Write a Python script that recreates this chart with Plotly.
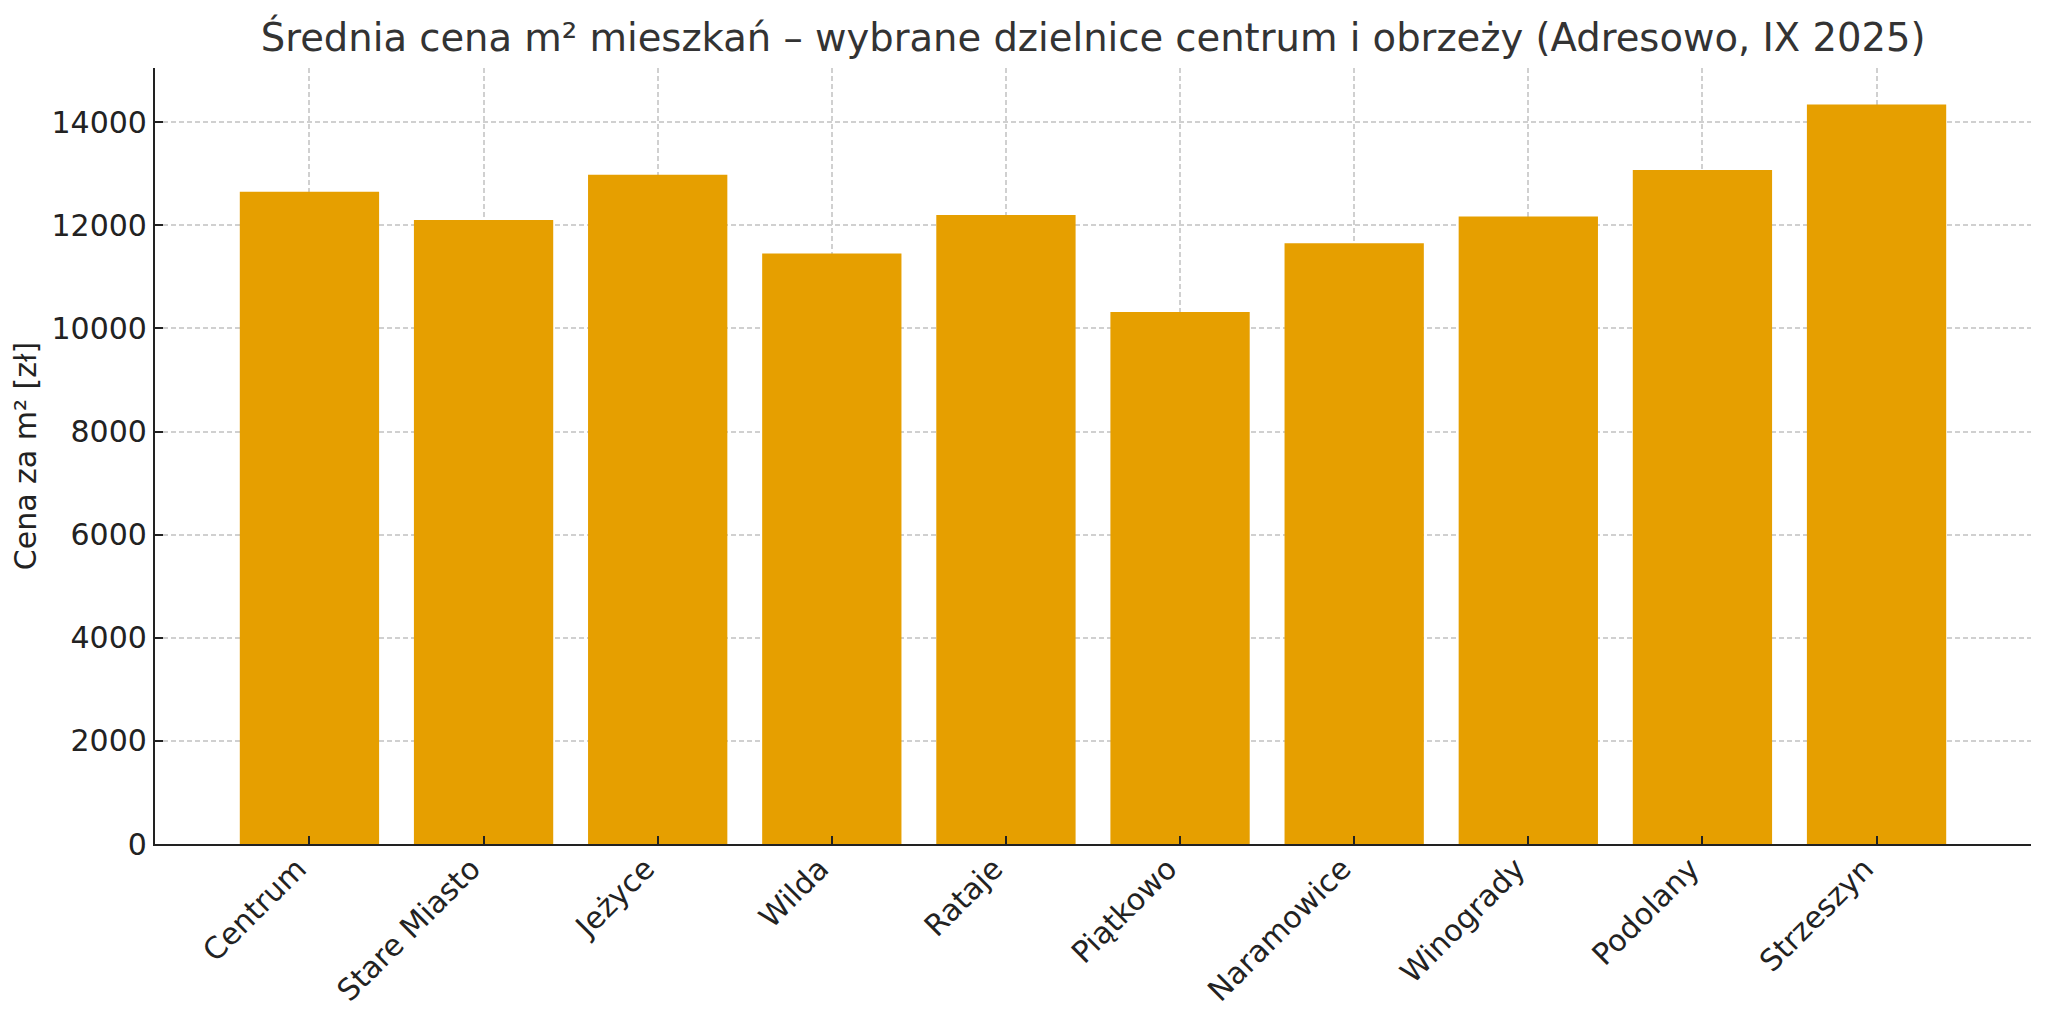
import plotly.graph_objects as go

# districts and average price per m2
districts = ["Centrum", "Stare Miasto", "Jeżyce", "Wilda", "Rataje",
             "Piątkowo", "Naramowice", "Winogrady", "Podolany", "Strzeszyn"]
prices = [12650, 12100, 12980, 11450, 12200, 10320, 11650, 12170, 13070, 14340]
y_ticks = [0, 2000, 4000, 6000, 8000, 10000, 12000, 14000]

FONT = "DejaVu Sans"

fig = go.Figure()
fig.add_trace(
    go.Bar(
        x=districts,
        y=prices,
        marker_color="#E69F00",
        marker_line_width=0,
        showlegend=False,
    )
)

# page body has an 8px margin, so the figure is 16px smaller than the window
fig.update_layout(
    width=2032,
    height=1000,
    margin=dict(l=147, r=9, t=60, b=164),
    paper_bgcolor="white",
    plot_bgcolor="white",
    bargap=0.2,
    font=dict(family=FONT, size=30, color="#222222"),
    title=dict(
        text="Średnia cena m² mieszkań – wybrane dzielnice centrum i obrzeży (Adresowo, IX 2025)",
        x=0.534, xanchor="center",
        y=0.970, yanchor="middle",
        font=dict(family=FONT, size=38.5, color="#333333"),
    ),
)

fig.update_xaxes(
    range=[-0.887, 9.887],
    tickangle=-45,
    automargin=False,
    ticklabelshift=-12,
    ticklabelstandoff=-7,
    showline=True, linecolor="#222222", linewidth=2.2,
    ticks="inside", ticklen=8, tickwidth=2, tickcolor="#222222",
    showgrid=True, gridcolor="#d0d0d0", gridwidth=1.5, griddash="5px,3px",
    layer="above traces",
    zeroline=False,
)
fig.update_yaxes(
    range=[0, 15050],
    tickvals=y_ticks,
    tickformat="d",
    automargin=False,
    title=dict(text="Cena za m² [zł]", standoff=11, font=dict(size=30)),
    showline=True, linecolor="#222222", linewidth=2.2,
    ticks="inside", ticklen=8, tickwidth=2, tickcolor="#222222",
    showgrid=True, gridcolor="#d0d0d0", gridwidth=1.5, griddash="5px,3px",
    layer="above traces",
    zeroline=False,
)

fig.write_html("out.html")
